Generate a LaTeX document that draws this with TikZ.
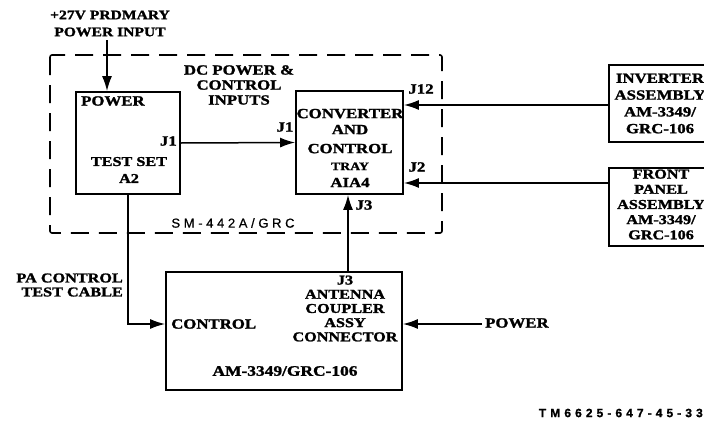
\documentclass[tikz,border=0pt]{standalone}
\usepackage{fontspec}
\setmainfont[FakeStretch=1.2, BoldFeatures={FakeStretch=1.2, FakeBold=1.6}]{Liberation Serif}
\newfontfamily\tmfont[LetterSpace=34, BoldFeatures={LetterSpace=34, FakeBold=1.2}]{Liberation Sans}
\newfontfamily\smfont[LetterSpace=28, FakeBold=0.8]{Liberation Sans}
\usetikzlibrary{arrows.meta}
\begin{document}
\begin{tikzpicture}[x=1pt,y=-1pt,
  font=\fontsize{14}{15}\selectfont\bfseries,
  box/.style={draw, line width=1.8pt, inner sep=0pt},
  conn/.style={line width=1.5pt},
  arr/.style={conn, -{Latex[length=15pt,width=10pt]}},
  lbl/.style={inner sep=0pt, align=center},
]
\useasboundingbox (0,0) rectangle (704,423);

% dashed enclosure SM-442A/GRC
\draw[line width=1.6pt, dash pattern=on 18pt off 10pt, rounded corners=2pt] (50,55) rectangle (442,233);

% boxes
\node[box, minimum width=104pt, minimum height=102pt] (ps) at (128,143) {};
\node[box, minimum width=107pt, minimum height=103pt] (conv) at (349.5,142.5) {};
\node[box, minimum width=104pt, minimum height=77pt] (inv) at (661,103.5) {};
\node[box, minimum width=104pt, minimum height=78pt] (fp) at (661,207) {};
\node[box, minimum width=236pt, minimum height=118pt] (big) at (284,331) {};

% texts in boxes
\node[lbl, anchor=west] (pstitle) at (81,101) {POWER};
\node[lbl, font=\fontsize{13.5}{17}\selectfont\bfseries] (pstext) at (129,170) {TEST SET\\A2};
\node[lbl, anchor=east] (psj1) at (177,141) {J1};
\node[lbl] (convtext) at (350,148) {CONVERTER\\[1pt]AND\\[4pt]CONTROL\\[2pt]{\fontsize{11.5}{15}\selectfont TRAY}\\[2pt]AIA4};
\node[lbl, font=\fontsize{14}{16.8}\selectfont\bfseries] (invtext) at (660,103.5) {INVERTER\\ASSEMBLY\\AM-3349/\\GRC-106};
\node[lbl, font=\fontsize{13.5}{15.2}\selectfont\bfseries] (fptext) at (661,204.5) {FRONT\\PANEL\\ASSEMBLY\\AM-3349/\\GRC-106};
\node[lbl, anchor=west] (ctl) at (171,324) {CONTROL};
\node[lbl, font=\fontsize{13.5}{14.2}\selectfont\bfseries] (ant) at (345,308.5) {J3\\ANTENNA\\COUPLER\\ASSY\\CONNECTOR};
\node[lbl, font=\fontsize{14.5}{15}\selectfont\bfseries] (am) at (285,371) {AM-3349/GRC-106};

% outside labels
\node[lbl, font=\fontsize{13}{17}\selectfont\bfseries] (t27) at (110,23.5) {+27V PRDMARY\\POWER INPUT};
\node[lbl] (dc) at (239,85) {DC POWER \&\\CONTROL\\INPUTS};
\node[lbl] (j1b) at (285,127) {J1};
\node[lbl] (j12) at (421,89) {J12};
\node[lbl] (j2) at (417,167) {J2};
\node[lbl] (j3) at (364,205) {J3};
\node[lbl, align=right, anchor=east, font=\fontsize{13.5}{14}\selectfont\bfseries] (pa) at (123,285) {PA CONTROL\\TEST CABLE};
\node[lbl, anchor=west] (pwr) at (485,323) {POWER};
\node[lbl, font=\fontsize{13}{14}\selectfont\smfont] (sm) at (233,223) {SM-442A/GRC};
\node[lbl, anchor=east, font=\fontsize{12}{13}\selectfont\tmfont\bfseries] (tm) at (703,413) {TM6625-647-45-33};

% connectors
\coordinate (pin) at (107,40);
\draw[arr] (pin) -- (ps.north -| pin);
\draw[arr] (ps.east) -- (conv.west);
\draw[arr] (inv.west |- 0,105) -- (conv.east |- 0,105);
\draw[arr] (fp.west |- 0,183) -- (conv.east |- 0,183);
\draw[arr] (big.north -| 348,0) -- (conv.south -| 348,0);
\draw[arr] (ps.south) |- (big.west |- 0,324);
\coordinate (pw) at (482,324);
\draw[arr] (pw) -- (big.east |- pw);
\end{tikzpicture}
\end{document}
